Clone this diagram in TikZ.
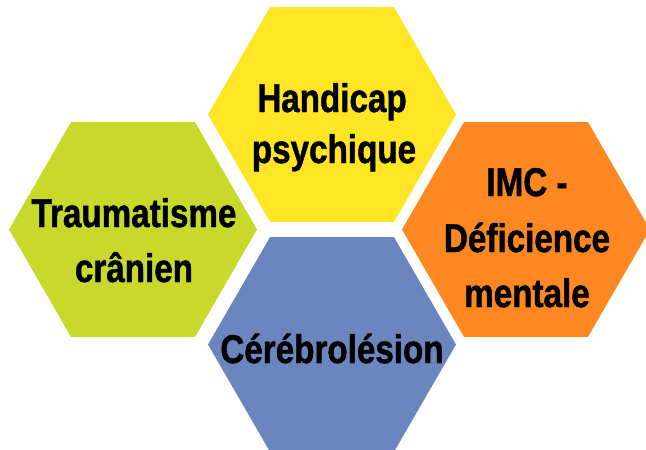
\documentclass[tikz,border=0pt]{standalone}
\usepackage{fontspec}
\usetikzlibrary{shapes.geometric}
\newfontfamily\hexfont{Liberation Sans}[FakeStretch=0.83, BoldFeatures={FakeBold=1.2}]
\definecolor{hexyellow}{RGB}{255,229,36}
\definecolor{hexgreen}{RGB}{201,217,43}
\definecolor{hexorange}{RGB}{253,136,34}
\definecolor{hexblue}{RGB}{107,134,190}
\tikzset{
  hexa/.style={regular polygon, regular polygon sides=6, minimum size=248pt,
    inner sep=0pt, outer sep=0pt, draw=none},
  hextext/.style={anchor=base, inner sep=0pt, text=black,
    font=\hexfont\bfseries\fontsize{40}{42}\selectfont}
}
\begin{document}
\begin{tikzpicture}[x=1pt,y=-1pt]
\useasboundingbox (0,0) rectangle (646,450);
\node[hexa, fill=hexyellow] (hy) at (332,114.5) {};
\node[hexa, fill=hexgreen]  (hg) at (133,229.5) {};
\node[hexa, fill=hexorange] (ho) at (526,229.5) {};
\node[hexa, fill=hexblue]   (hb) at (332,344.5) {};
\node[hextext] (ty1) at (332,112) {Handicap};
\node[hextext] (ty2) at (334,163) {psychique};
\node[hextext] (tg1) at (134,227) {Traumatisme};
\node[hextext] (tg2) at (134,282) {crânien};
\node[hextext] (to1) at (527,196) {IMC -};
\node[hextext] (to2) at (527,252) {Déficience};
\node[hextext] (to3) at (527,307) {mentale};
\node[hextext] (tb1) at (332,363) {Cérébrolésion};
\end{tikzpicture}
\end{document}
